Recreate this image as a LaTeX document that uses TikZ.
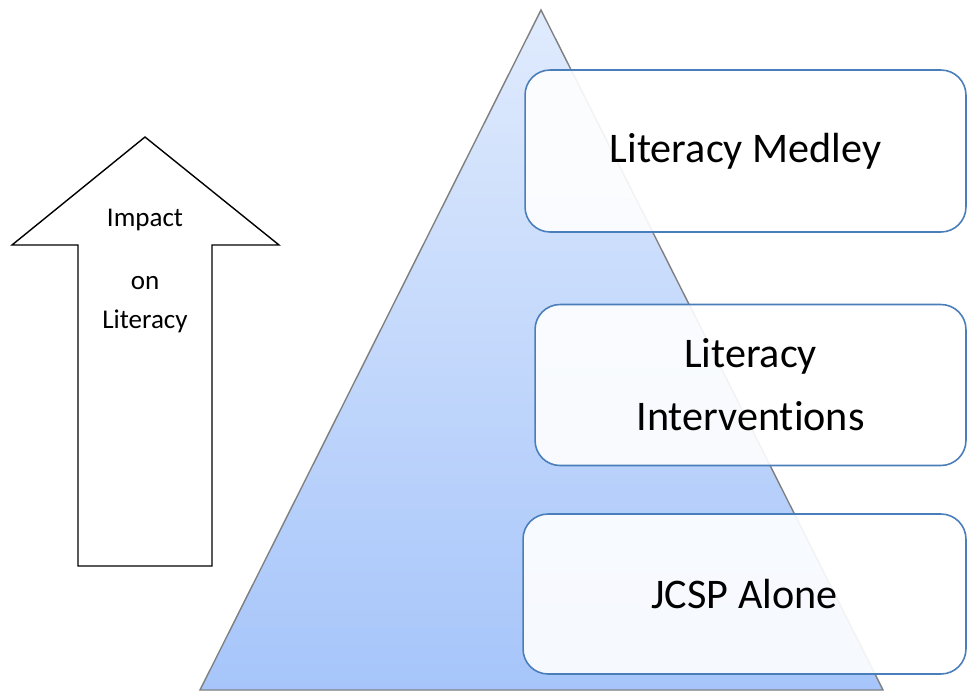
\documentclass[tikz,border=0pt]{standalone}
\usepackage{fontspec}
\setmainfont{Carlito}[Ligatures={NoCommon}]
\definecolor{pyrtop}{RGB}{224,235,253}
\definecolor{pyrbot}{RGB}{166,197,250}
\definecolor{boxline}{RGB}{74,126,187}
\begin{document}
\begin{tikzpicture}[x=0.02cm,y=-0.02cm,line join=miter,
  levelbox/.style={draw=boxline,line width=0.9pt,fill=white,
    fill opacity=0.9,text opacity=1,rounded corners=0.5cm,
    align=center,font=\fontsize{24}{36}\selectfont},
  every node/.style={inner sep=0pt}]
  \useasboundingbox (0,0) rectangle (967,693);
  % pyramid
  \coordinate (apex) at (541,10);
  \coordinate (baseL) at (200,690);
  \coordinate (baseR) at (883,690);
  \shade[top color=pyrtop,bottom color=pyrbot] (apex) -- (baseR) -- (baseL) -- cycle;
  \draw[black!50,line width=0.8pt] (apex) -- (baseR) -- (baseL) -- cycle;
  % levels
  \node[levelbox,minimum width=8.82cm,minimum height=3.24cm]
    (medley) at (745.5,151) {Literacy Medley};
  \node[levelbox,minimum width=8.62cm,minimum height=3.22cm]
    (interv) at (750.5,385) {Literacy\\Interventions};
  \node[levelbox,minimum width=8.86cm,minimum height=3.2cm]
    (alone) at (744.5,594) {JCSP Alone};
  % impact arrow
  \draw[black,line width=0.8pt] (145,137) -- (279,245) -- (212,245) -- (212,566)
    -- (78,566) -- (78,245) -- (12,245) -- cycle;
  \node[align=center,font=\fontsize{15.4}{22}\selectfont,anchor=north]
    (impact) at (145,209) {Impact\\[14pt]on\\Literacy};
\end{tikzpicture}
\end{document}
